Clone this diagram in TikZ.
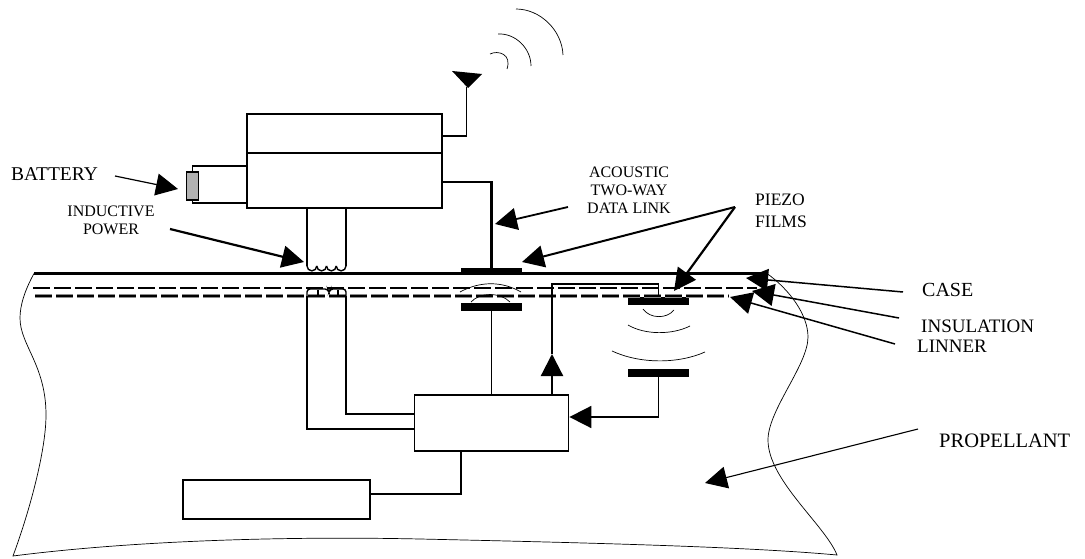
\documentclass[tikz,border=0pt]{standalone}
\usepackage{fontspec}
\setmainfont{Liberation Serif}
\usetikzlibrary{arrows.meta}

\begin{document}
\begin{tikzpicture}[
        x=1pt, y=1pt,
        box/.style={draw=black, line width=1.8pt, inner sep=0pt},
        film/.style={fill=black, inner sep=0pt, minimum width=61pt},
        wire/.style={draw=black, line width=1.4pt},
        wirebold/.style={draw=black, line width=2.6pt},
        thin line/.style={draw=black, line width=0.7pt},
        arr/.style={-{Triangle[length=22pt,width=22pt]}, draw=black, line width=1.5pt},
        lab/.style={inner sep=0pt, anchor=west, align=left, font=\fontsize{19}{22}\selectfont},
        labsmall/.style={inner sep=0pt, align=center, font=\fontsize{16}{18.2}\selectfont},
        dashline/.style={dash pattern=on 17pt off 4pt}
    ]
    \useasboundingbox (0,0) rectangle (1085,-559);
    \node[box, minimum width=195pt, minimum height=39pt] (upper) at (344.5,-133.5) {};
    \node[box, minimum width=195pt, minimum height=55pt] (lower) at (344.5,-180.5) {};
    \node[box, minimum width=154pt, minimum height=56pt] (ctrl) at (491.5,-423) {};
    \node[box, minimum width=187pt, minimum height=39pt] (store) at (276.5,-499.5) {};
    \node[draw=black, line width=1.4pt, fill=black!30, inner sep=0pt,
          minimum width=12pt, minimum height=28pt] (bat) at (192.5,-186) {};
    \node[film, minimum height=5.5pt] (filmA) at (491.5,-270.5) {};
    \node[film, minimum height=8pt] (filmB) at (491.5,-307) {};
    \node[film, minimum height=8pt] (filmC) at (658.5,-301) {};
    \node[film, minimum height=8pt] (filmD) at (658.5,-373) {};

    \node[lab, font=\fontsize{19.5}{22}\selectfont] (batlab) at (11,-174) {BATTERY};
    \node[labsmall] (indlab) at (111,-220.5) {INDUCTIVE\\POWER};
    \node[labsmall] (acolab) at (629,-190) {ACOUSTIC\\TWO-WAY\\DATA LINK};
    \node[lab, font=\fontsize{17.5}{22.5}\selectfont] (pielab) at (755,-211) {PIEZO\\FILMS};
    \node[lab, font=\fontsize{20}{22}\selectfont] (caselab) at (922,-290) {CASE};
    \node[lab] (inslab) at (921,-326.5) {INSULATION};
    \node[lab] (linlab) at (917,-346.5) {LINNER};
    \node[lab, font=\fontsize{20.5}{22}\selectfont] (prolab) at (939,-441) {PROPELLANT};

    \coordinate (antbase) at (466.5,-87);
    \coordinate (upperE) at (upper.east |- 0,-136);
    \coordinate (lowerE) at (lower.east |- 0,-182);
    \coordinate (batA) at (lower.west |- 0,-166);
    \coordinate (batB) at (lower.west |- 0,-203);
    \coordinate (coilA) at (307,-266);
    \coordinate (coilB) at (346,-266);
    \coordinate (coilC) at (307,-296);
    \coordinate (coilD) at (346,-296);
    \coordinate (ctrlA) at (ctrl.west |- 0,-429);
    \coordinate (ctrlB) at (ctrl.west |- 0,-414);
    \coordinate (ctrlE) at (ctrl.east |- 0,-417);
    \coordinate (ctrlN) at (552,-395);
    \coordinate (ctrlS) at (461,-451);
    \coordinate (storeE) at (store.east |- 0,-494);
    \coordinate (uptip) at (552,-354);
    \coordinate (upbend) at (552,-284);
    \coordinate (caseL) at (34,-273.5);
    \coordinate (caseR) at (767,-273.5);
    \coordinate (apex) at (735,-207);

    \fill (452,-71) -- (482,-74) -- (468,-88) -- cycle;
    \draw[wire] (upperE) -| (antbase);
    \draw[thin line] (490,-54) .. controls (498,-50) and (512,-54) .. (507,-69);
    \draw[thin line] (498,-34) .. controls (515,-33) and (531,-48) .. (531,-66);
    \draw[thin line] (516,-9) .. controls (540,-9) and (562,-30) .. (563,-55);

    \draw[wire] (bat.north) |- (batA);
    \draw[wire] (bat.south) |- (batB);

    \draw[wire] (coilA |- lower.south) -- (coilA);
    \draw[wire] (coilB |- lower.south) -- (coilB);
    \foreach \xpos in {307,316.75,326.5,336.25}
        \draw[wire] (\xpos,-266) arc (180:360:4.875);

    \draw[wirebold] (caseL) -- (caseR);
    \draw[black, line width=1.5pt, dashline] (33,-288) -- (757,-288);
    \draw[black, line width=1.8pt, dashline, preaction={draw=black!45, line width=3.6pt, dashline}]
        (35,-296) -- (729,-296);

    \draw[wire, rounded corners=3pt] (coilC) -- (307,-289) -- (328,-289) -- (329,-293)
        -- (330,-289) -- (346,-289) -- (coilD);
    \draw[wire] (318,-290) -- (318,-295);
    \draw[wire] (338,-290) -- (338,-295);
    \draw[wire] (coilC) |- (ctrlA);
    \draw[wire] (coilD) |- (ctrlB);

    \draw[wirebold] (lowerE) -| (filmA.north);
    \draw[wire] (filmB.south) -- (ctrl.north);
    \draw[thin line] (460,-292) .. controls (480,-281) and (502,-281) .. (521,-292);
    \draw[thin line] (471,-302) .. controls (480,-292) and (500,-292) .. (510,-302);

    \draw[arr, line width=2.2pt] (ctrlN) -- (uptip);
    \draw[wire] (uptip) -- (upbend) -| (filmC.north);
    \draw[arr, line width=1.8pt] (filmD.south) |- (ctrlE);
    \draw[wire] (storeE) -| (ctrlS);

    \draw[thin line] (643,-309) .. controls (650,-319) and (667,-319) .. (674,-310);
    \draw[thin line] (628,-325) .. controls (645,-335) and (672,-335) .. (690,-326);
    \draw[thin line] (612,-351) .. controls (640,-364) and (678,-364) .. (705,-352);

    \draw[thin line] (caseL) .. controls (25,-290) and (20,-305) .. (20,-318)
        .. controls (20,-345) and (46,-365) .. (46,-415)
        .. controls (46,-450) and (30,-510) .. (13,-556)
        .. controls (130,-541) and (280,-536) .. (420,-539)
        .. controls (600,-543) and (750,-547) .. (837,-555)
        .. controls (825,-525) and (768,-480) .. (768,-440)
        .. controls (768,-410) and (808,-365) .. (808,-337)
        .. controls (808,-315) and (790,-290) .. (caseR);

    \draw[arr, line width=1.2pt] (115,-176) -- (178,-189);
    \draw[arr, line width=2.2pt] (170,-229) -- (304,-262);
    \draw[arr, line width=1.8pt] (568,-207) -- (495,-224);
    \draw[arr, line width=2pt] (apex) -- (522,-262);
    \draw[arr, line width=2.2pt] (apex) -- (674,-291);
    \draw[arr] (903,-292) -- (746,-278);
    \draw[arr] (899,-318) -- (752,-291);
    \draw[arr] (895,-344) -- (730,-297);
    \draw[arr, line width=1.1pt] (918,-429) -- (705,-483);
    \end{tikzpicture}
\end{document}
